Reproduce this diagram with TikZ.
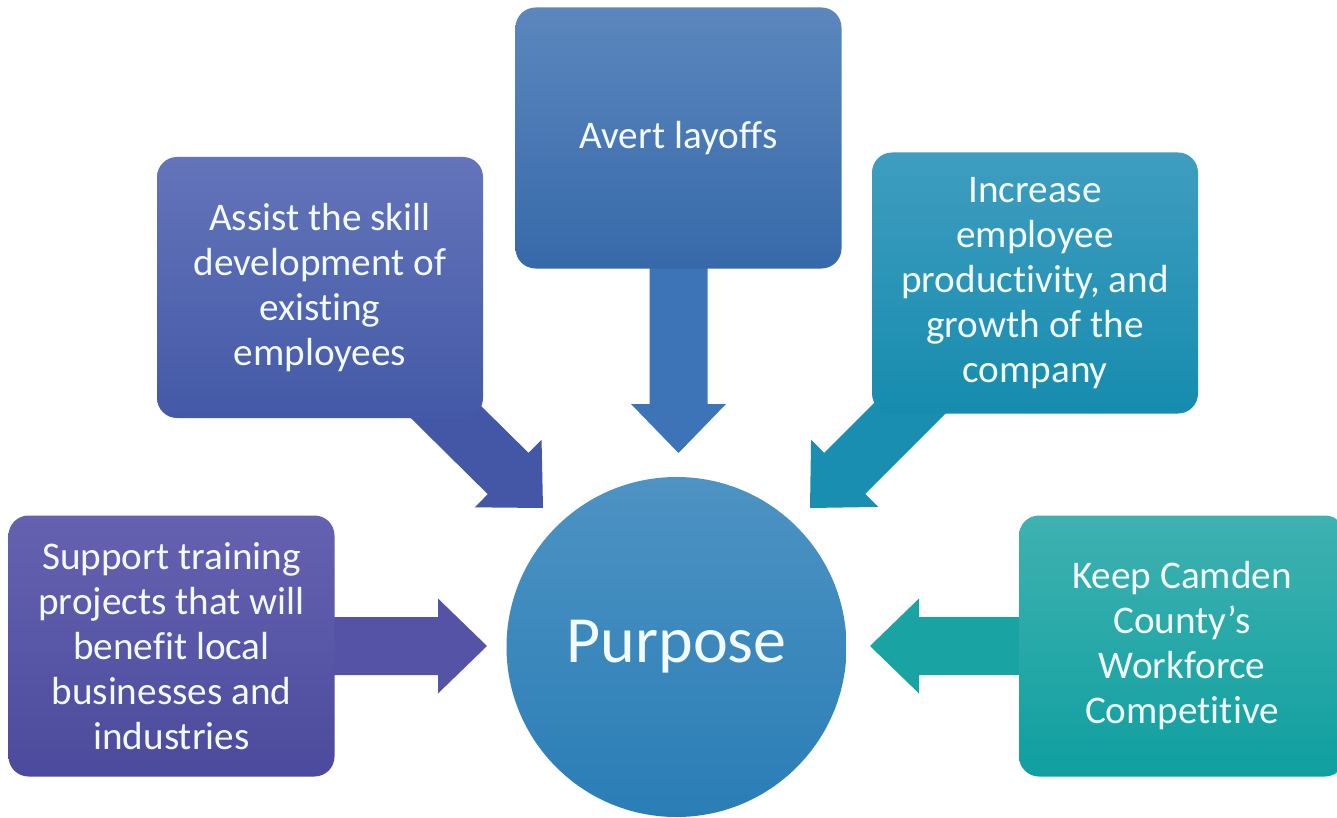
\documentclass[tikz,border=0pt]{standalone}
\usepackage{fontspec}
\setmainfont{Carlito}[Ligatures=NoCommon]
\usetikzlibrary{calc,backgrounds}
\definecolor{supT}{HTML}{6462B0}
\definecolor{supB}{HTML}{4C4A9C}
\definecolor{supA}{HTML}{5553A6}
\definecolor{asT}{HTML}{6474BA}
\definecolor{asB}{HTML}{4459A7}
\definecolor{asA}{HTML}{4357A6}
\definecolor{avT}{HTML}{5B87BD}
\definecolor{avB}{HTML}{3769AA}
\definecolor{avA}{HTML}{3D74B7}
\definecolor{puT}{HTML}{4D93C3}
\definecolor{puB}{HTML}{2A7DB6}
\definecolor{inT}{HTML}{3F9DC0}
\definecolor{inB}{HTML}{168CAE}
\definecolor{inA}{HTML}{1A8EB0}
\definecolor{keT}{HTML}{3FB1B1}
\definecolor{keB}{HTML}{109F9F}
\definecolor{keA}{HTML}{1AA3A3}
\definecolor{txt}{HTML}{F2FAFC}
\newcommand\blockarrowx[3]{%
  \coordinate (bah) at ($(#3)!24.5pt!(#2)$);
  \fill[#1] ($(#2)!14.5pt!90:(#3)$) -- ($(bah)!14.5pt!90:(#3)$) -- ($(bah)!23.75pt!90:(#3)$)
    -- (#3) -- ($(bah)!23.75pt!-90:(#3)$) -- ($(bah)!14.5pt!-90:(#3)$) -- ($(#2)!14.5pt!-90:(#3)$) -- cycle;
}
\begin{document}
\begin{tikzpicture}[x=0.5pt,y=-0.5pt,
  box/.style={rectangle, rounded corners=10pt, minimum width=163pt, minimum height=130.5pt,
    inner sep=0pt, align=center, text=txt, font=\fontsize{19.6}{22.5}\selectfont},
  hub/.style={circle, minimum size=170pt, inner sep=0pt, text=txt, font=\fontsize{33}{36}\selectfont}]
\useasboundingbox (0,0) rectangle (1337,818);

\node[box, top color=supT, bottom color=supB] (sup) at (171.5,646)
  {Support training\\projects that will\\benefit local\\businesses and\\industries};
\node[box, top color=asT, bottom color=asB] (asst) at (320,287.5)
  {Assist the skill\\development of\\existing\\employees};
\node[box, top color=avT, bottom color=avB] (avert) at (678.5,138)
  {Avert layoffs};
\node[box, top color=inT, bottom color=inB] (incr) at (1035,283)
  {Increase\\employee\\productivity, and\\growth of the\\company};
\node[box, top color=keT, bottom color=keB] (keep) at (1182,646)
  {Keep Camden\\County’s\\Workforce\\Competitive};
\node[hub, top color=puT, bottom color=puB] (purpose) at (676.5,647) {Purpose};

\coordinate (tsup) at (487,646);
\coordinate (tasst) at (543,508);
\coordinate (tavert) at (678.5,453);
\coordinate (tincr) at (810,508);
\coordinate (tkeep) at (870,646);

\begin{pgfonlayer}{background}
\fill[white] (0,0) rectangle (1337,818);
\blockarrowx{supA}{sup.center}{tsup}
\blockarrowx{asA}{asst.center}{tasst}
\blockarrowx{avA}{avert.center}{tavert}
\blockarrowx{inA}{incr.center}{tincr}
\blockarrowx{keA}{keep.center}{tkeep}
\end{pgfonlayer}
\end{tikzpicture}
\end{document}
